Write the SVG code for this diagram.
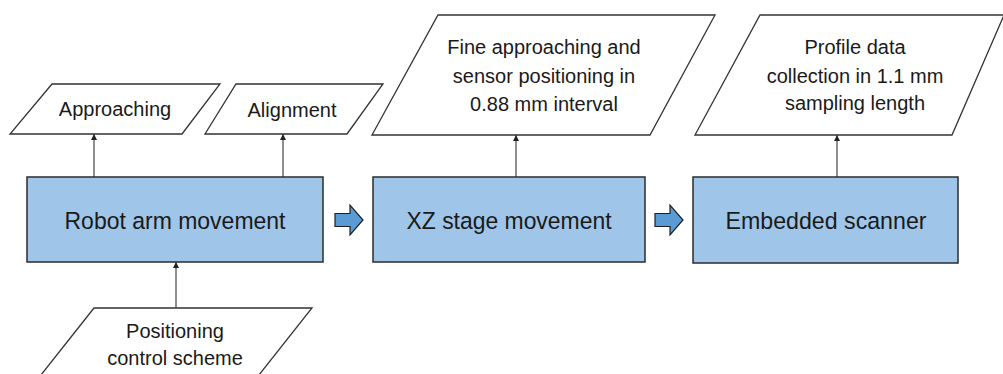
<svg xmlns="http://www.w3.org/2000/svg" width="1003" height="374" viewBox="0 0 1003 374">
<defs>
<style>
.box{fill:#9fc5e8;stroke:#2b2b2b;stroke-width:1.5}
.para{fill:#ffffff;stroke:#333333;stroke-width:1.3}
.big{font-family:"Liberation Sans",Arial,sans-serif;font-size:24.5px;fill:#1a1a1a;text-anchor:middle}
.small{font-family:"Liberation Sans",Arial,sans-serif;font-size:20px;fill:#1a1a1a;text-anchor:middle}
.conn{stroke:#333333;stroke-width:1.1;fill:none;marker-end:url(#ah)}
.blk{fill:#5b9bd5;stroke:#1f1f1f;stroke-width:1.2;stroke-linejoin:miter}
</style>
<marker id="ah" viewBox="0 0 10 10" refX="10" refY="5" markerWidth="6" markerHeight="7" markerUnits="userSpaceOnUse" orient="auto">
<path d="M0,0 L10,5 L0,10 z" fill="#222222"/>
</marker>
</defs>
<rect width="1003" height="374" fill="#ffffff"/>
<g id="connectors">
<line class="conn" x1="94" y1="177" x2="94" y2="134"/>
<line class="conn" x1="283" y1="177" x2="283" y2="134"/>
<line class="conn" x1="176" y1="308" x2="176" y2="262"/>
<line class="conn" x1="516" y1="177" x2="516" y2="135"/>
<line class="conn" x1="837" y1="177" x2="837" y2="135"/>
<path class="blk" d="M335,213.5 L350,213.5 L350,205 L363,220 L350,235 L350,226.5 L335,226.5 z"/>
<path class="blk" d="M655,213.5 L670,213.5 L670,205 L683,220 L670,235 L670,226.5 L655,226.5 z"/>
</g>
<g id="approaching">
<polygon class="para" points="52,84 220,84 182,134 10,134"/>
<text class="small" x="115" y="116">Approaching</text>
</g>
<g id="alignment">
<polygon class="para" points="236,84 383,84 347,134 205,134"/>
<text class="small" x="292" y="117">Alignment</text>
</g>
<g id="fine">
<polygon class="para" points="438,15 715,15 650,135 372,135"/>
<text class="small" x="544" y="54">Fine approaching and</text>
<text class="small" x="544" y="83">sensor positioning in</text>
<text class="small" x="544" y="111">0.88 mm interval</text>
</g>
<g id="profile">
<polygon class="para" points="760,15 1004,15 952,135 695,135"/>
<text class="small" x="855" y="54">Profile data</text>
<text class="small" x="855" y="83">collection in 1.1 mm</text>
<text class="small" x="855" y="110">sampling length</text>
</g>
<g id="robot">
<rect class="box" x="27" y="177" width="296" height="85"/>
<text class="big" x="175" y="229" textLength="221" lengthAdjust="spacingAndGlyphs">Robot arm movement</text>
</g>
<g id="xz">
<rect class="box" x="373" y="177" width="272" height="85"/>
<text class="big" x="509" y="229" textLength="205" lengthAdjust="spacingAndGlyphs">XZ stage movement</text>
</g>
<g id="scanner">
<rect class="box" x="693" y="177" width="265" height="86"/>
<text class="big" x="826" y="229" textLength="201" lengthAdjust="spacingAndGlyphs">Embedded scanner</text>
</g>
<g id="positioning">
<polygon class="para" points="94,308 312,308 255,380 37,380"/>
<text class="small" x="175" y="338">Positioning</text>
<text class="small" x="175" y="365">control scheme</text>
</g>
</svg>
